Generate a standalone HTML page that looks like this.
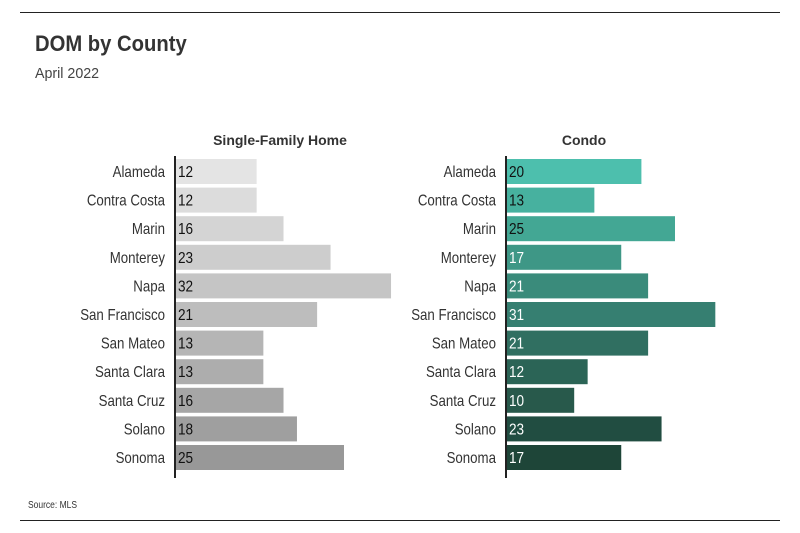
<!DOCTYPE html>
<html><head><meta charset="utf-8"><style>
html,body{margin:0;padding:0;background:#fff;}
svg{display:block;font-family:"Liberation Sans Narrow","Liberation Sans",sans-serif;}
</style></head><body>
<svg id="c" width="800" height="533" viewBox="0 0 800 533">
<line x1="20" y1="12.5" x2="780" y2="12.5" stroke="#222" stroke-width="1"/>
<line x1="20" y1="520.5" x2="780" y2="520.5" stroke="#222" stroke-width="1"/>
<text transform="translate(35,51) scale(0.92,1)" font-size="22" font-weight="bold" fill="#333">DOM by County</text>
<text transform="translate(35,78) scale(0.95,1)" font-size="15" fill="#444">April 2022</text>
<text transform="translate(28,508) scale(0.85,1)" font-size="10" fill="#333">Source: MLS</text>
<text x="280" y="145" font-size="14" font-weight="bold" fill="#333" text-anchor="middle">Single-Family Home</text>
<text x="584" y="145" font-size="14" font-weight="bold" fill="#333" text-anchor="middle">Condo</text>
<g id="left"></g><g id="right"></g>
</svg>
<script>
const counties=["Alameda","Contra Costa","Marin","Monterey","Napa","San Francisco","San Mateo","Santa Clara","Santa Cruz","Solano","Sonoma"];
const sfhValues=[12,12,16,23,32,21,13,13,16,18,25];
const condoValues=[20,13,25,17,21,31,21,12,10,23,17];
const sfhColors=["#e4e4e4","#dcdcdc","#d4d4d4","#cdcdcd","#c5c5c5","#bdbdbd","#b5b5b5","#adadad","#a6a6a6","#9f9f9f","#989898"];
const condoColors=["#4dbfad","#47b19f","#43a794","#3e9786","#3a8b7b","#367f71","#306f61","#2b6456","#28594b","#214d41","#1e4538"];
const NS="http://www.w3.org/2000/svg";
const scale=6.72, top0=159, step=28.6, bh=25;
function y(i){return top0+i*step;}
function x(v){return v*scale;}
function panel(g,x0,vals,cols,prefix,darkN){
  const ax=document.createElementNS(NS,"line");
  ax.setAttribute("x1",x0);ax.setAttribute("x2",x0);ax.setAttribute("y1",156);ax.setAttribute("y2",478);
  ax.setAttribute("stroke","#222");ax.setAttribute("stroke-width","2");
  
  
  g.appendChild(ax);
  vals.forEach((v,i)=>{
    const r=document.createElementNS(NS,"rect");
    r.setAttribute("x",x0+1);r.setAttribute("y",y(i));r.setAttribute("width",x(v));r.setAttribute("height",bh);r.setAttribute("fill",cols[i]);
    
    
    g.appendChild(r);
    const l=document.createElementNS(NS,"text");
    l.setAttribute("transform","translate("+(x0-10)+","+(y(i)+bh/2+5.5)+") scale(0.83,1)");
    l.setAttribute("text-anchor","end");l.setAttribute("font-size","16");l.setAttribute("fill","#333");
    l.textContent=counties[i];
    
    
    g.appendChild(l);
    const t=document.createElementNS(NS,"text");
    t.setAttribute("transform","translate("+(x0+3)+","+(y(i)+bh/2+5.5)+") scale(0.85,1)");
    t.setAttribute("font-size","16");t.setAttribute("fill",i<darkN?"#111":"#fff");
    t.textContent=v;
    
    
    g.appendChild(t);
  });
}
panel(document.getElementById("left"),175,sfhValues,sfhColors,"sfh",99);
panel(document.getElementById("right"),506,condoValues,condoColors,"condo",3);
</script>
</body></html>
